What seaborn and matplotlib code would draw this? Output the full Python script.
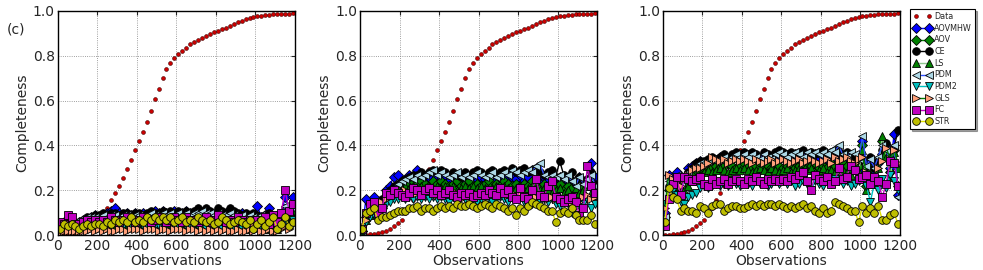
import matplotlib
matplotlib.use("Agg")
import matplotlib.pyplot as plt
import seaborn as sns

# number of observations (same grid for every curve)
obs = list(range(10, 1200, 20))

data_curve = [
    0.000, 0.002, 0.004, 0.007, 0.010, 0.015, 0.020, 0.030, 0.040, 0.055,
    0.070, 0.100, 0.120, 0.155, 0.190, 0.220, 0.255, 0.295, 0.335, 0.380,
    0.420, 0.460, 0.505, 0.555, 0.605, 0.650, 0.700, 0.740, 0.765, 0.790,
    0.805, 0.820, 0.835, 0.850, 0.860, 0.870, 0.880, 0.888, 0.895, 0.903,
    0.910, 0.918, 0.925, 0.933, 0.940, 0.948, 0.956, 0.963, 0.968, 0.972,
    0.975, 0.978, 0.980, 0.982, 0.984, 0.985, 0.986, 0.987, 0.987, 0.988,
]

methods = ["AOVMHW", "AOV", "CE", "LS", "PDM", "PDM2", "GLS", "FC", "STR"]

# ---- panel 1 ----
p1_aovmhw = [0.05, 0.06, 0.07, 0.06, 0.05, 0.06, 0.07, 0.07, 0.08, 0.09,
             0.08, 0.09, 0.10, 0.11, 0.12, 0.10, 0.09, 0.10, 0.09, 0.10,
             0.09, 0.10, 0.09, 0.10, 0.11, 0.10, 0.11, 0.10, 0.10, 0.11,
             0.10, 0.10, 0.11, 0.10, 0.09, 0.11, 0.10, 0.09, 0.10, 0.09,
             0.10, 0.09, 0.10, 0.09, 0.08, 0.09, 0.10, 0.09, 0.08, 0.09,
             0.13, 0.08, 0.09, 0.12, 0.08, 0.07, 0.09, 0.17, 0.12, 0.17]
p1_aov = [0.05, 0.04, 0.05, 0.04, 0.05, 0.05, 0.06, 0.05, 0.06, 0.06,
          0.06, 0.07, 0.06, 0.07, 0.06, 0.07, 0.06, 0.07, 0.07, 0.06,
          0.07, 0.06, 0.07, 0.06, 0.07, 0.07, 0.06, 0.07, 0.06, 0.07,
          0.06, 0.07, 0.06, 0.07, 0.06, 0.07, 0.07, 0.06, 0.07, 0.06,
          0.07, 0.06, 0.07, 0.06, 0.05, 0.06, 0.07, 0.06, 0.06, 0.05,
          0.06, 0.07, 0.05, 0.06, 0.07, 0.04, 0.06, 0.09, 0.07, 0.11]
p1_ce = [0.04, 0.05, 0.06, 0.06, 0.05, 0.06, 0.07, 0.08, 0.08, 0.09,
         0.09, 0.10, 0.09, 0.10, 0.10, 0.09, 0.10, 0.10, 0.09, 0.10,
         0.10, 0.09, 0.10, 0.11, 0.10, 0.10, 0.11, 0.10, 0.11, 0.10,
         0.11, 0.10, 0.11, 0.10, 0.11, 0.12, 0.11, 0.12, 0.11, 0.10,
         0.12, 0.11, 0.10, 0.12, 0.11, 0.10, 0.09, 0.10, 0.09, 0.10,
         0.09, 0.08, 0.09, 0.10, 0.08, 0.09, 0.10, 0.12, 0.09, 0.13]
p1_ls = [0.03, 0.04, 0.04, 0.03, 0.04, 0.04, 0.05, 0.04, 0.05, 0.05,
         0.05, 0.04, 0.05, 0.05, 0.04, 0.05, 0.05, 0.04, 0.05, 0.05,
         0.05, 0.04, 0.05, 0.05, 0.04, 0.05, 0.04, 0.05, 0.05, 0.04,
         0.05, 0.04, 0.05, 0.04, 0.05, 0.04, 0.05, 0.04, 0.04, 0.05,
         0.04, 0.05, 0.04, 0.03, 0.04, 0.05, 0.04, 0.04, 0.03, 0.04,
         0.05, 0.04, 0.03, 0.05, 0.04, 0.03, 0.05, 0.07, 0.05, 0.08]
p1_pdm = [0.04, 0.05, 0.06, 0.05, 0.06, 0.07, 0.07, 0.08, 0.08, 0.08,
          0.08, 0.09, 0.08, 0.09, 0.09, 0.08, 0.09, 0.09, 0.08, 0.09,
          0.09, 0.08, 0.09, 0.10, 0.09, 0.09, 0.10, 0.09, 0.10, 0.09,
          0.10, 0.09, 0.10, 0.09, 0.10, 0.10, 0.11, 0.10, 0.10, 0.09,
          0.10, 0.09, 0.09, 0.10, 0.09, 0.08, 0.09, 0.08, 0.09, 0.08,
          0.08, 0.09, 0.08, 0.09, 0.07, 0.08, 0.08, 0.13, 0.10, 0.12]
p1_pdm2 = [0.02, 0.03, 0.03, 0.04, 0.03, 0.04, 0.04, 0.03, 0.04, 0.04,
           0.04, 0.05, 0.04, 0.04, 0.05, 0.04, 0.04, 0.05, 0.04, 0.04,
           0.05, 0.04, 0.04, 0.05, 0.04, 0.04, 0.05, 0.04, 0.05, 0.04,
           0.04, 0.05, 0.04, 0.04, 0.05, 0.04, 0.04, 0.03, 0.04, 0.04,
           0.04, 0.03, 0.04, 0.04, 0.03, 0.04, 0.03, 0.04, 0.03, 0.03,
           0.04, 0.03, 0.04, 0.03, 0.02, 0.03, 0.04, 0.06, 0.04, 0.07]
p1_gls = [0.01, 0.02, 0.02, 0.02, 0.02, 0.02, 0.02, 0.02, 0.03, 0.02,
          0.03, 0.02, 0.03, 0.02, 0.02, 0.03, 0.03, 0.02, 0.03, 0.03,
          0.03, 0.02, 0.03, 0.03, 0.03, 0.02, 0.03, 0.03, 0.02, 0.03,
          0.03, 0.03, 0.02, 0.03, 0.03, 0.02, 0.03, 0.02, 0.03, 0.02,
          0.03, 0.02, 0.03, 0.02, 0.02, 0.03, 0.02, 0.02, 0.03, 0.02,
          0.03, 0.02, 0.02, 0.03, 0.02, 0.02, 0.03, 0.04, 0.03, 0.05]
p1_fc = [0.06, 0.05, 0.09, 0.08, 0.05, 0.05, 0.06, 0.07, 0.06, 0.07,
         0.06, 0.07, 0.06, 0.08, 0.07, 0.06, 0.07, 0.08, 0.07, 0.06,
         0.07, 0.08, 0.07, 0.06, 0.07, 0.08, 0.07, 0.06, 0.07, 0.08,
         0.07, 0.06, 0.08, 0.07, 0.07, 0.06, 0.07, 0.08, 0.06, 0.07,
         0.09, 0.07, 0.06, 0.07, 0.06, 0.08, 0.07, 0.06, 0.07, 0.06,
         0.07, 0.06, 0.08, 0.05, 0.09, 0.06, 0.10, 0.20, 0.11, 0.14]
p1_str = [0.03, 0.05, 0.04, 0.05, 0.04, 0.03, 0.04, 0.05, 0.04, 0.05,
          0.05, 0.04, 0.06, 0.05, 0.07, 0.06, 0.07, 0.06, 0.08, 0.06,
          0.07, 0.06, 0.08, 0.07, 0.08, 0.07, 0.08, 0.07, 0.08, 0.06,
          0.07, 0.08, 0.06, 0.07, 0.06, 0.08, 0.07, 0.06, 0.07, 0.05,
          0.06, 0.08, 0.07, 0.05, 0.06, 0.07, 0.06, 0.05, 0.07, 0.03,
          0.05, 0.07, 0.04, 0.06, 0.08, 0.03, 0.05, 0.08, 0.04, 0.06]

# ---- panel 2 ----
p2_aovmhw = [0.02, 0.16, 0.14, 0.17, 0.13, 0.12, 0.20, 0.22, 0.26, 0.27,
             0.24, 0.23, 0.27, 0.26, 0.29, 0.27, 0.25, 0.26, 0.28, 0.26,
             0.25, 0.27, 0.24, 0.26, 0.25, 0.27, 0.24, 0.26, 0.25, 0.24,
             0.26, 0.25, 0.27, 0.25, 0.24, 0.26, 0.27, 0.24, 0.26, 0.25,
             0.27, 0.24, 0.26, 0.29, 0.25, 0.23, 0.26, 0.24, 0.22, 0.25,
             0.26, 0.22, 0.24, 0.20, 0.23, 0.26, 0.18, 0.24, 0.32, 0.26]
p2_aov = [0.02, 0.08, 0.10, 0.12, 0.11, 0.14, 0.17, 0.19, 0.21, 0.22,
          0.23, 0.22, 0.23, 0.24, 0.23, 0.24, 0.23, 0.22, 0.24, 0.23,
          0.24, 0.23, 0.22, 0.23, 0.24, 0.22, 0.23, 0.24, 0.22, 0.23,
          0.22, 0.23, 0.24, 0.22, 0.23, 0.22, 0.24, 0.23, 0.22, 0.23,
          0.22, 0.23, 0.22, 0.24, 0.22, 0.21, 0.23, 0.22, 0.21, 0.22,
          0.23, 0.20, 0.22, 0.21, 0.23, 0.20, 0.22, 0.24, 0.22, 0.21]
p2_ce = [0.03, 0.09, 0.11, 0.13, 0.14, 0.16, 0.18, 0.20, 0.22, 0.23,
         0.24, 0.25, 0.26, 0.27, 0.27, 0.28, 0.27, 0.28, 0.29, 0.28,
         0.29, 0.28, 0.27, 0.28, 0.27, 0.26, 0.28, 0.27, 0.28, 0.29,
         0.28, 0.27, 0.28, 0.29, 0.27, 0.28, 0.29, 0.28, 0.30, 0.28,
         0.29, 0.30, 0.28, 0.29, 0.30, 0.28, 0.27, 0.28, 0.29, 0.26,
         0.33, 0.27, 0.26, 0.28, 0.23, 0.26, 0.24, 0.25, 0.28, 0.23]
p2_ls = [0.02, 0.07, 0.09, 0.11, 0.12, 0.14, 0.16, 0.18, 0.20, 0.21,
         0.21, 0.22, 0.21, 0.22, 0.21, 0.22, 0.21, 0.22, 0.21, 0.22,
         0.21, 0.22, 0.21, 0.22, 0.20, 0.21, 0.22, 0.21, 0.22, 0.21,
         0.22, 0.21, 0.20, 0.21, 0.22, 0.21, 0.22, 0.21, 0.20, 0.21,
         0.22, 0.20, 0.21, 0.22, 0.21, 0.20, 0.21, 0.20, 0.19, 0.20,
         0.21, 0.19, 0.20, 0.18, 0.21, 0.19, 0.20, 0.22, 0.19, 0.18]
p2_pdm = [0.02, 0.08, 0.10, 0.12, 0.13, 0.15, 0.17, 0.19, 0.21, 0.23,
          0.24, 0.25, 0.26, 0.25, 0.27, 0.26, 0.27, 0.28, 0.29, 0.27,
          0.28, 0.27, 0.26, 0.27, 0.28, 0.26, 0.27, 0.26, 0.27, 0.28,
          0.27, 0.26, 0.27, 0.28, 0.26, 0.27, 0.28, 0.27, 0.29, 0.28,
          0.27, 0.28, 0.29, 0.28, 0.31, 0.32, 0.27, 0.26, 0.27, 0.26,
          0.27, 0.25, 0.27, 0.24, 0.22, 0.26, 0.23, 0.25, 0.27, 0.22]
p2_pdm2 = [0.02, 0.06, 0.08, 0.09, 0.10, 0.12, 0.14, 0.15, 0.16, 0.16,
           0.17, 0.16, 0.17, 0.16, 0.17, 0.16, 0.17, 0.16, 0.17, 0.16,
           0.17, 0.16, 0.15, 0.17, 0.16, 0.17, 0.16, 0.17, 0.16, 0.15,
           0.16, 0.17, 0.16, 0.15, 0.16, 0.17, 0.16, 0.15, 0.17, 0.16,
           0.17, 0.15, 0.16, 0.14, 0.16, 0.15, 0.16, 0.15, 0.16, 0.14,
           0.13, 0.15, 0.14, 0.10, 0.15, 0.13, 0.14, 0.16, 0.12, 0.14]
p2_gls = [0.04, 0.07, 0.10, 0.12, 0.13, 0.15, 0.16, 0.17, 0.18, 0.19,
          0.19, 0.20, 0.19, 0.20, 0.19, 0.20, 0.19, 0.20, 0.19, 0.18,
          0.19, 0.18, 0.19, 0.18, 0.19, 0.18, 0.17, 0.18, 0.19, 0.18,
          0.19, 0.18, 0.19, 0.18, 0.19, 0.18, 0.19, 0.18, 0.17, 0.18,
          0.19, 0.18, 0.17, 0.18, 0.17, 0.18, 0.17, 0.16, 0.17, 0.16,
          0.17, 0.15, 0.16, 0.15, 0.16, 0.15, 0.17, 0.18, 0.16, 0.17]
p2_fc = [0.03, 0.10, 0.14, 0.15, 0.10, 0.12, 0.19, 0.18, 0.20, 0.19,
         0.18, 0.17, 0.19, 0.21, 0.20, 0.18, 0.20, 0.21, 0.19, 0.20,
         0.18, 0.19, 0.20, 0.18, 0.17, 0.19, 0.18, 0.19, 0.17, 0.18,
         0.19, 0.18, 0.20, 0.19, 0.18, 0.21, 0.19, 0.20, 0.17, 0.16,
         0.21, 0.17, 0.16, 0.20, 0.25, 0.18, 0.17, 0.22, 0.24, 0.17,
         0.16, 0.15, 0.16, 0.17, 0.15, 0.09, 0.12, 0.31, 0.22, 0.19]
p2_str = [0.03, 0.10, 0.11, 0.12, 0.07, 0.08, 0.08, 0.09, 0.10, 0.11,
          0.11, 0.11, 0.12, 0.12, 0.13, 0.11, 0.12, 0.12, 0.11, 0.12,
          0.13, 0.12, 0.13, 0.12, 0.14, 0.13, 0.13, 0.14, 0.13, 0.12,
          0.13, 0.14, 0.13, 0.12, 0.14, 0.13, 0.12, 0.11, 0.12, 0.09,
          0.12, 0.11, 0.13, 0.15, 0.14, 0.13, 0.12, 0.11, 0.11, 0.06,
          0.10, 0.11, 0.10, 0.12, 0.09, 0.07, 0.07, 0.07, 0.09, 0.05]

# ---- panel 3 ----
p3_aovmhw = [0.10, 0.27, 0.26, 0.28, 0.24, 0.26, 0.30, 0.31, 0.32, 0.33,
             0.31, 0.32, 0.34, 0.33, 0.35, 0.34, 0.33, 0.34, 0.35, 0.34,
             0.35, 0.34, 0.33, 0.35, 0.34, 0.33, 0.34, 0.35, 0.33, 0.34,
             0.35, 0.33, 0.34, 0.36, 0.34, 0.33, 0.35, 0.34, 0.36, 0.34,
             0.35, 0.33, 0.34, 0.35, 0.36, 0.33, 0.34, 0.32, 0.35, 0.28,
             0.42, 0.30, 0.33, 0.29, 0.32, 0.36, 0.40, 0.30, 0.45, 0.18]
p3_aov = [0.08, 0.20, 0.22, 0.24, 0.20, 0.22, 0.25, 0.27, 0.29, 0.30,
          0.30, 0.31, 0.30, 0.31, 0.30, 0.31, 0.32, 0.31, 0.30, 0.31,
          0.32, 0.31, 0.30, 0.31, 0.32, 0.30, 0.31, 0.30, 0.32, 0.31,
          0.30, 0.31, 0.32, 0.30, 0.31, 0.32, 0.30, 0.31, 0.32, 0.30,
          0.31, 0.30, 0.32, 0.31, 0.30, 0.32, 0.31, 0.29, 0.30, 0.31,
          0.40, 0.22, 0.30, 0.24, 0.33, 0.42, 0.36, 0.28, 0.38, 0.22]
p3_ce = [0.08, 0.22, 0.24, 0.25, 0.22, 0.25, 0.28, 0.30, 0.32, 0.33,
         0.33, 0.34, 0.35, 0.34, 0.35, 0.36, 0.35, 0.36, 0.37, 0.36,
         0.37, 0.36, 0.37, 0.36, 0.35, 0.37, 0.36, 0.35, 0.37, 0.38,
         0.37, 0.36, 0.37, 0.36, 0.37, 0.38, 0.36, 0.37, 0.36, 0.37,
         0.38, 0.36, 0.37, 0.38, 0.37, 0.36, 0.37, 0.36, 0.35, 0.33,
         0.34, 0.31, 0.35, 0.30, 0.33, 0.38, 0.41, 0.33, 0.39, 0.47]
p3_ls = [0.07, 0.18, 0.20, 0.22, 0.19, 0.20, 0.22, 0.24, 0.26, 0.27,
         0.28, 0.29, 0.28, 0.29, 0.30, 0.29, 0.28, 0.29, 0.30, 0.29,
         0.30, 0.29, 0.28, 0.29, 0.30, 0.29, 0.28, 0.30, 0.29, 0.28,
         0.29, 0.30, 0.28, 0.29, 0.30, 0.28, 0.29, 0.30, 0.28, 0.29,
         0.30, 0.28, 0.29, 0.28, 0.30, 0.29, 0.28, 0.27, 0.29, 0.28,
         0.38, 0.20, 0.27, 0.23, 0.30, 0.44, 0.35, 0.26, 0.37, 0.30]
p3_pdm = [0.08, 0.24, 0.25, 0.27, 0.23, 0.25, 0.28, 0.30, 0.31, 0.32,
          0.32, 0.33, 0.34, 0.33, 0.34, 0.35, 0.34, 0.35, 0.36, 0.35,
          0.36, 0.35, 0.36, 0.35, 0.34, 0.36, 0.35, 0.34, 0.36, 0.37,
          0.36, 0.35, 0.36, 0.37, 0.36, 0.35, 0.37, 0.36, 0.37, 0.36,
          0.37, 0.36, 0.38, 0.37, 0.40, 0.36, 0.35, 0.37, 0.36, 0.34,
          0.44, 0.31, 0.34, 0.30, 0.35, 0.40, 0.38, 0.32, 0.40, 0.17]
p3_pdm2 = [0.14, 0.19, 0.20, 0.18, 0.15, 0.14, 0.17, 0.18, 0.19, 0.21,
           0.22, 0.21, 0.22, 0.23, 0.22, 0.23, 0.22, 0.24, 0.23, 0.22,
           0.24, 0.23, 0.22, 0.24, 0.23, 0.24, 0.22, 0.23, 0.24, 0.23,
           0.24, 0.23, 0.24, 0.22, 0.23, 0.24, 0.23, 0.20, 0.24, 0.23,
           0.22, 0.24, 0.23, 0.25, 0.24, 0.23, 0.24, 0.22, 0.23, 0.24,
           0.26, 0.22, 0.15, 0.23, 0.20, 0.25, 0.21, 0.27, 0.24, 0.20]
p3_gls = [0.12, 0.27, 0.25, 0.24, 0.22, 0.25, 0.27, 0.29, 0.30, 0.30,
          0.31, 0.32, 0.35, 0.34, 0.33, 0.34, 0.32, 0.33, 0.34, 0.33,
          0.34, 0.33, 0.32, 0.34, 0.33, 0.32, 0.33, 0.34, 0.32, 0.33,
          0.34, 0.33, 0.32, 0.33, 0.34, 0.32, 0.33, 0.34, 0.33, 0.32,
          0.33, 0.34, 0.32, 0.35, 0.33, 0.34, 0.35, 0.33, 0.32, 0.34,
          0.35, 0.28, 0.27, 0.26, 0.30, 0.33, 0.39, 0.34, 0.38, 0.32]
p3_fc = [0.04, 0.16, 0.23, 0.26, 0.18, 0.26, 0.25, 0.24, 0.25, 0.26,
         0.23, 0.22, 0.25, 0.23, 0.24, 0.25, 0.23, 0.24, 0.25, 0.24,
         0.23, 0.25, 0.24, 0.26, 0.24, 0.23, 0.25, 0.24, 0.25, 0.24,
         0.25, 0.24, 0.26, 0.25, 0.27, 0.28, 0.24, 0.20, 0.27, 0.25,
         0.24, 0.26, 0.23, 0.24, 0.30, 0.25, 0.26, 0.31, 0.29, 0.25,
         0.26, 0.27, 0.23, 0.26, 0.24, 0.17, 0.23, 0.33, 0.32, 0.22]
p3_str = [0.06, 0.21, 0.17, 0.16, 0.11, 0.12, 0.11, 0.11, 0.10, 0.13,
          0.12, 0.10, 0.13, 0.14, 0.14, 0.11, 0.12, 0.13, 0.13, 0.12,
          0.12, 0.13, 0.14, 0.13, 0.14, 0.13, 0.14, 0.14, 0.13, 0.14,
          0.13, 0.12, 0.13, 0.12, 0.13, 0.14, 0.12, 0.13, 0.11, 0.10,
          0.12, 0.10, 0.11, 0.15, 0.14, 0.13, 0.12, 0.11, 0.11, 0.06,
          0.13, 0.10, 0.12, 0.10, 0.13, 0.07, 0.07, 0.09, 0.10, 0.05]

panels = [
    [p1_aovmhw, p1_aov, p1_ce, p1_ls, p1_pdm, p1_pdm2, p1_gls, p1_fc, p1_str],
    [p2_aovmhw, p2_aov, p2_ce, p2_ls, p2_pdm, p2_pdm2, p2_gls, p2_fc, p2_str],
    [p3_aovmhw, p3_aov, p3_ce, p3_ls, p3_pdm, p3_pdm2, p3_gls, p3_fc, p3_str],
]

# marker, face colour, line colour
styles = {
    "AOVMHW": ("D", "#0000ff", "#0000ff"),
    "AOV": ("D", "#008000", "#008000"),
    "CE": ("o", "#000000", "#000000"),
    "LS": ("^", "#008000", "#8fc98f"),
    "PDM": ("<", "#add8e6", "#3050ff"),
    "PDM2": ("v", "#00bfbf", "#00bfbf"),
    "GLS": (">", "#ffa07a", "#008000"),
    "FC": ("s", "#bf00bf", "#bf00bf"),
    "STR": ("o", "#bfbf00", "#e0e000"),
}

sns.set_style("whitegrid", {
    "grid.linestyle": ":",
    "grid.color": "0.5",
    "axes.edgecolor": "black",
    "xtick.direction": "in",
    "ytick.direction": "in",
})
plt.rcParams["font.family"] = ["DejaVu Sans"]
plt.rcParams["axes.linewidth"] = 1.0
plt.rcParams["grid.linewidth"] = 0.6

fig = plt.figure(figsize=(9.83, 2.70), dpi=100)
lefts = [0.0587, 0.3662, 0.6742]
axes = [fig.add_axes([l, 0.1285, 0.2414, 0.832]) for l in lefts]

for ax, series in zip(axes, panels):
    sns.lineplot(x=obs, y=data_curve, ax=ax, color="#cc0000", marker="o",
                 linestyle="none", markersize=2.8, markeredgecolor="#440000",
                 markeredgewidth=0.4, label="Data")
    for name, vals in zip(methods, series):
        m, fc, lc = styles[name]
        sns.lineplot(x=obs, y=vals, ax=ax, color=lc, marker=m,
                     markerfacecolor=fc, markeredgecolor="black",
                     markeredgewidth=0.6, markersize=5.5, linewidth=1.0,
                     label=name)
    ax.set_xlim(0, 1200)
    ax.set_ylim(0, 1.0)
    ax.set_xticks([0, 200, 400, 600, 800, 1000, 1200])
    ax.set_yticks([0.0, 0.2, 0.4, 0.6, 0.8, 1.0])
    ax.set_yticklabels(["0.0", "0.2", "0.4", "0.6", "0.8", "1.0"])
    ax.tick_params(axis="both", labelsize=10, length=3, top=True, right=True)
    ax.tick_params(axis="x", pad=3)
    ax.tick_params(axis="y", pad=2)
    ax.set_xlabel("Observations", fontsize=10, labelpad=0.5)
    ax.set_ylabel("Completeness", fontsize=10, labelpad=3)
    for sp in ax.spines.values():
        sp.set_color("black")
    if ax.get_legend() is not None:
        ax.get_legend().remove()

handles, labels = axes[2].get_legend_handles_labels()
leg = axes[2].legend(handles, labels, loc="upper left",
                     bbox_to_anchor=(1.043, 1.008), fontsize=5.8,
                     numpoints=2, handlelength=2.2, handletextpad=0.4,
                     labelspacing=0.33, borderpad=0.4, borderaxespad=0.0,
                     fancybox=False, shadow={"ox": 1.5, "oy": -1.5},
                     framealpha=1, edgecolor="black")
leg.get_frame().set_linewidth(0.8)

fig.text(0.007, 0.875, "(c)", fontsize=10)

fig.savefig("out.png", dpi=100)
